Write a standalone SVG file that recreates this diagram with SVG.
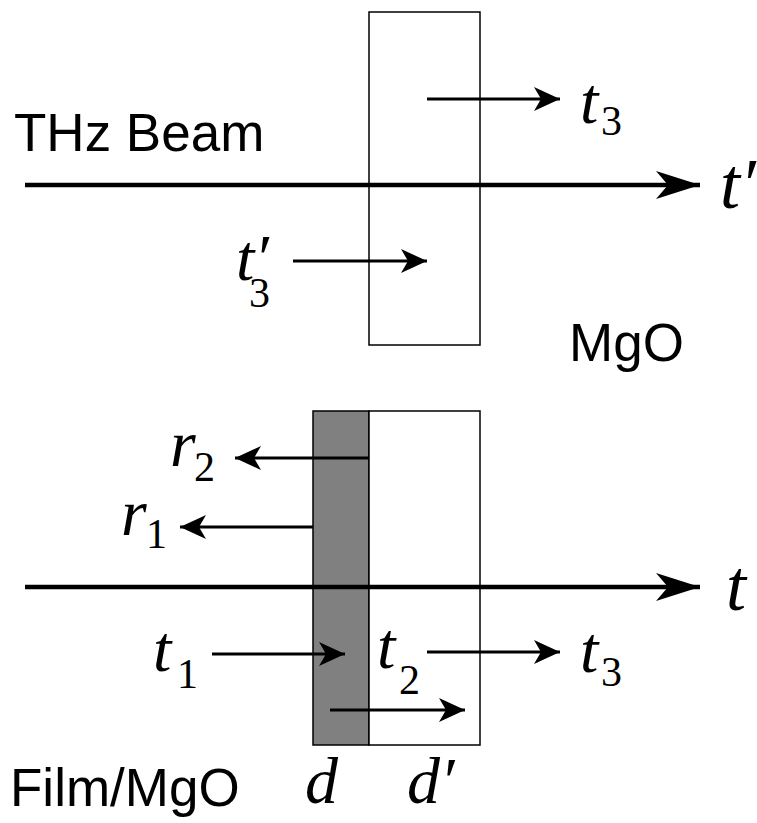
<svg xmlns="http://www.w3.org/2000/svg" width="757" height="823" viewBox="0 0 757 823">
<style>
.box{fill:#fff;stroke:#000;stroke-width:1.5}
.film{fill:#808080;stroke:#000;stroke-width:1.5}
.beam{stroke:#000;stroke-width:4.5;fill:none}
.ray{stroke:#000;stroke-width:3;fill:none}
.sans{font-family:"Liberation Sans",Arial,sans-serif;font-size:53px;fill:#000}
.math{font-family:"Liberation Serif","Times New Roman",serif;font-style:italic;font-size:66px;fill:#000}
.big{font-size:72px}
.sub{font-family:"Liberation Serif","Times New Roman",serif;font-style:normal;font-size:42px}
</style>
<defs>
<marker id="big" markerUnits="userSpaceOnUse" viewBox="0 0 44 28" refX="44" refY="14" markerWidth="44" markerHeight="28" orient="auto">
<path d="M0,0 L44,14 L0,28 L12,14 Z" fill="#000"/>
</marker>
<marker id="small" markerUnits="userSpaceOnUse" viewBox="0 0 26 24" refX="26" refY="12" markerWidth="26" markerHeight="24" orient="auto">
<path d="M0,0 L26,12 L0,24 L7,12 Z" fill="#000"/>
</marker>
</defs>

<g id="mgo-slab">
<rect class="box" x="369" y="12" width="111" height="333"/>
</g>
<g id="film-slab">
<rect class="film" x="313" y="411" width="56" height="334"/>
</g>
<g id="substrate-slab">
<rect class="box" x="369" y="411" width="111" height="334"/>
</g>

<g id="connectors">
<line class="beam" x1="25" y1="185" x2="700" y2="185" marker-end="url(#big)"/>
<line class="ray" x1="427" y1="99" x2="560" y2="99" marker-end="url(#small)"/>
<line class="ray" x1="293" y1="261" x2="427" y2="261" marker-end="url(#small)"/>
<line class="beam" x1="25" y1="587" x2="700" y2="587" marker-end="url(#big)"/>
<line class="ray" x1="369" y1="458" x2="235" y2="458" marker-end="url(#small)"/>
<line class="ray" x1="313" y1="527" x2="180" y2="527" marker-end="url(#small)"/>
<line class="ray" x1="212" y1="654" x2="345" y2="654" marker-end="url(#small)"/>
<line class="ray" x1="427" y1="652" x2="560" y2="652" marker-end="url(#small)"/>
<line class="ray" x1="330" y1="710" x2="465" y2="710" marker-end="url(#small)"/>
</g>

<g id="labels">
<text class="sans" x="14" y="151">THz Beam</text>
<text class="sans" x="569" y="361">MgO</text>
<text class="sans" x="10" y="806">Film/MgO</text>
<text class="math big" x="720" y="208">t′</text>
<text class="math" x="580" y="123">t<tspan class="sub" x="601" y="135">3</tspan></text>
<text class="math" x="236" y="280">t′</text>
<text class="math" x="249" y="307"><tspan class="sub">3</tspan></text>
<text class="math big" x="726" y="610">t</text>
<text class="math" x="170" y="466">r<tspan class="sub" x="194" y="481">2</tspan></text>
<text class="math" x="121" y="535">r<tspan class="sub" x="146" y="548">1</tspan></text>
<text class="math" x="153" y="671">t<tspan class="sub" x="177" y="688">1</tspan></text>
<text class="math" x="377" y="668">t<tspan class="sub" x="399" y="694">2</tspan></text>
<text class="math" x="580" y="672">t<tspan class="sub" x="601" y="686">3</tspan></text>
<text class="math" x="305" y="803">d</text>
<text class="math" x="407" y="803">d′</text>
</g>
</svg>
